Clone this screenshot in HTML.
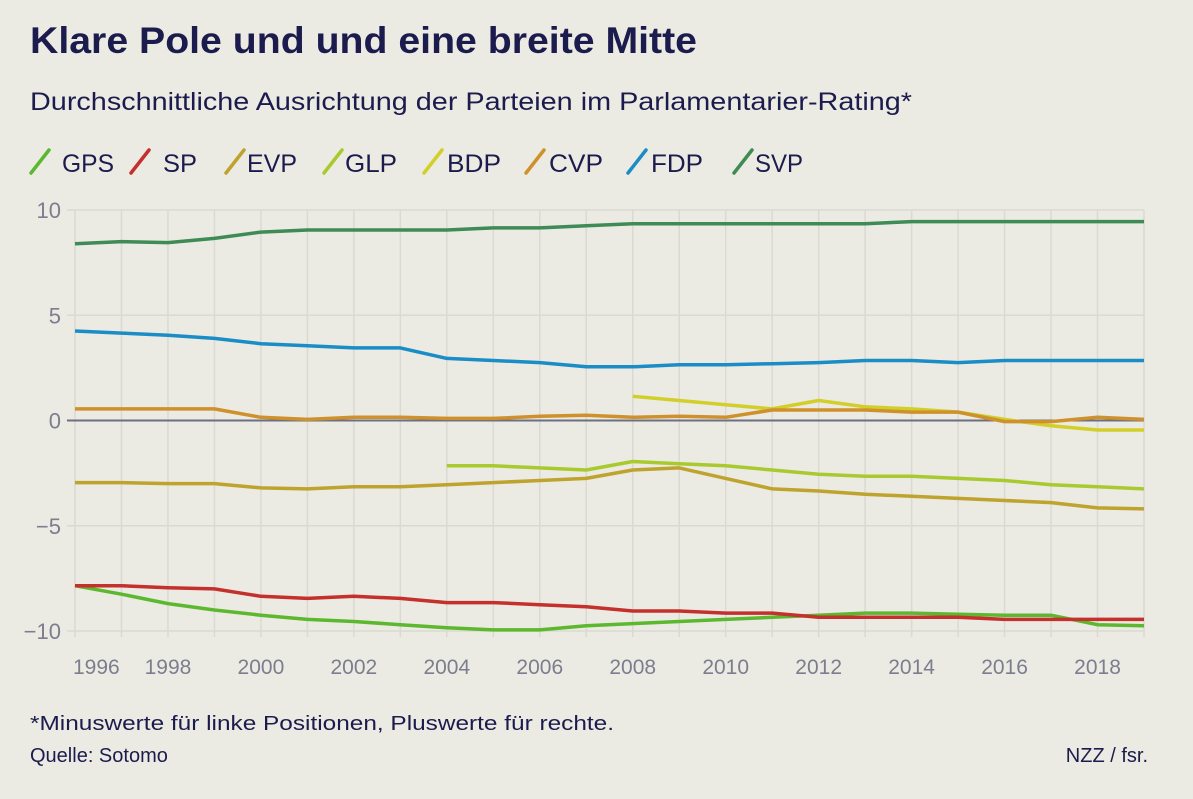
<!DOCTYPE html>
<html><head><meta charset="utf-8"><style>
body{margin:0;background:#ebebe3;}
svg{display:block;font-family:"Liberation Sans Narrow","Liberation Sans",sans-serif;}
</style></head><body>
<svg id="chart" width="1193" height="799" viewBox="0 0 1193 799" xmlns="http://www.w3.org/2000/svg">
<rect width="1193" height="799" fill="#ebebe3"/>
<text x="30" y="53" font-size="37" font-weight="bold" fill="#1c1b4d" textLength="667" lengthAdjust="spacingAndGlyphs">Klare Pole und und eine breite Mitte</text>
<text x="30" y="110" font-size="25" fill="#1c1b4d" textLength="882" lengthAdjust="spacingAndGlyphs">Durchschnittliche Ausrichtung der Parteien im Parlamentarier-Rating*</text>
<g id="legend"></g>
<g id="grid"></g>
<g id="series"></g>
<text x="30" y="730" font-size="20" fill="#1c1b4d" font-family="Liberation Sans, sans-serif" textLength="584" lengthAdjust="spacingAndGlyphs">*Minuswerte für linke Positionen, Pluswerte für rechte.</text>
<text x="30" y="762" font-size="20" fill="#1c1b4d" font-family="Liberation Sans, sans-serif">Quelle: Sotomo</text>
<text x="1148" y="762" font-size="20" fill="#1c1b4d" text-anchor="end" font-family="Liberation Sans, sans-serif">NZZ / fsr.</text>
</svg>
<script>
const years = [1996,1997,1998,1999,2000,2001,2002,2003,2004,2005,2006,2007,2008,2009,2010,2011,2012,2013,2014,2015,2016,2017,2018,2019];
const yTicks = [10,5,0,-5,-10];
const yTickLabels = ["10","5","0","\u22125","\u221210"];
const xTickYears = [1996,1998,2000,2002,2004,2006,2008,2010,2012,2014,2016,2018];
const partyNames = ["GPS","SP","EVP","GLP","BDP","CVP","FDP","SVP"];
const gps = [-7.85,-8.25,-8.7,-9.0,-9.25,-9.45,-9.55,-9.7,-9.85,-9.95,-9.95,-9.75,-9.65,-9.55,-9.45,-9.35,-9.25,-9.15,-9.15,-9.2,-9.25,-9.25,-9.7,-9.75];
const sp = [-7.85,-7.85,-7.95,-8.0,-8.35,-8.45,-8.35,-8.45,-8.65,-8.65,-8.75,-8.85,-9.05,-9.05,-9.15,-9.15,-9.35,-9.35,-9.35,-9.35,-9.45,-9.45,-9.45,-9.45];
const evp = [-2.95,-2.95,-3.0,-3.0,-3.2,-3.25,-3.15,-3.15,-3.05,-2.95,-2.85,-2.75,-2.35,-2.25,-2.75,-3.25,-3.35,-3.5,-3.6,-3.7,-3.8,-3.9,-4.15,-4.2];
const glp = [null,null,null,null,null,null,null,null,-2.15,-2.15,-2.25,-2.35,-1.95,-2.05,-2.15,-2.35,-2.55,-2.65,-2.65,-2.75,-2.85,-3.05,-3.15,-3.25];
const bdp = [null,null,null,null,null,null,null,null,null,null,null,null,1.15,0.95,0.75,0.55,0.95,0.65,0.55,0.4,0.05,-0.25,-0.45,-0.45];
const cvp = [0.55,0.55,0.55,0.55,0.15,0.05,0.15,0.15,0.1,0.1,0.2,0.25,0.15,0.2,0.15,0.5,0.5,0.5,0.4,0.4,-0.05,-0.05,0.15,0.05];
const fdp = [4.25,4.15,4.05,3.9,3.65,3.55,3.45,3.45,2.95,2.85,2.75,2.55,2.55,2.65,2.65,2.7,2.75,2.85,2.85,2.75,2.85,2.85,2.85,2.85];
const svp = [8.4,8.5,8.45,8.65,8.95,9.05,9.05,9.05,9.05,9.15,9.15,9.25,9.35,9.35,9.35,9.35,9.35,9.35,9.45,9.45,9.45,9.45,9.45,9.45];

const colors = ["#5cb82e","#c4302b","#bfa32f","#a8ca2e","#d3cf2a","#cf912b","#1a8dc6","#3f8b56"];
const seriesData = [gps,sp,evp,glp,bdp,cvp,fdp,svp];
const NS="http://www.w3.org/2000/svg";
const x0=75,x1=1144,yTop=210,yBot=631;
function xs(yr){return x0+(yr-years[0])*(x1-x0)/(years[years.length-1]-years[0]);}
function ys(v){return yTop+(10-v)*(yBot-yTop)/20;}
function mk(tag,attrs,parent){const e=document.createElementNS(NS,tag);for(const k in attrs)e.setAttribute(k,attrs[k]);parent.appendChild(e);return e;}
const grid=document.getElementById('grid');
years.forEach(yr=>{
  const l=mk('line',{x1:xs(yr),x2:xs(yr),y1:yTop,y2:yBot+6,stroke:'#dadad3','stroke-width':1.5},grid);
  
  
});
yTicks.forEach((t,i)=>{
  const l=mk('line',{x1:x0-8,x2:x1,y1:ys(t),y2:ys(t),stroke:t===0?'#6e6f80':'#dadad3','stroke-width':t===0?2:1.5},grid);
  
  
  const tx=mk('text',{x:61,y:ys(t)+8,'text-anchor':'end','font-size':22,fill:'#7c7d8e','font-family':'Liberation Sans, sans-serif'},grid);
  tx.textContent=yTickLabels[i];
  
  
});
xTickYears.forEach((yr,i)=>{
  const tx=mk('text',{x:i===0?xs(yr)-2:xs(yr),y:674,'text-anchor':i===0?'start':'middle','font-size':21,fill:'#7c7d8e','font-family':'Liberation Sans, sans-serif'},grid);
  tx.textContent=String(yr);
  
  
});
const sg=document.getElementById('series');
seriesData.forEach((arr,s)=>{
  let d='';let started=false;
  arr.forEach((v,i)=>{if(v===null)return;d+=(started?'L':'M')+xs(years[i]).toFixed(1)+','+ys(v).toFixed(1);started=true;});
  const p=mk('path',{d:d,fill:'none',stroke:colors[s],'stroke-width':3.5,'stroke-linejoin':'round'},sg);
  
  
});
const lg=document.getElementById('legend');
const legSlashX=[31,131,226,324,424,526,628,734];
const legTextX=[62,163,247,345,447,549,651,755];
const legTextW=[52,34,50,52,54,54,52,48];
partyNames.forEach((n,i)=>{
  const g=mk('g',{},lg);
  
  
  mk('line',{x1:legSlashX[i],y1:173,x2:legSlashX[i]+18,y2:150,stroke:colors[i],'stroke-width':3.5,'stroke-linecap':'round'},g);
  const t=mk('text',{x:legTextX[i],y:172,'font-size':25,fill:'#1c1b4d',textLength:legTextW[i],lengthAdjust:'spacingAndGlyphs'},g);
  t.textContent=n;
});
</script>
</body></html>
